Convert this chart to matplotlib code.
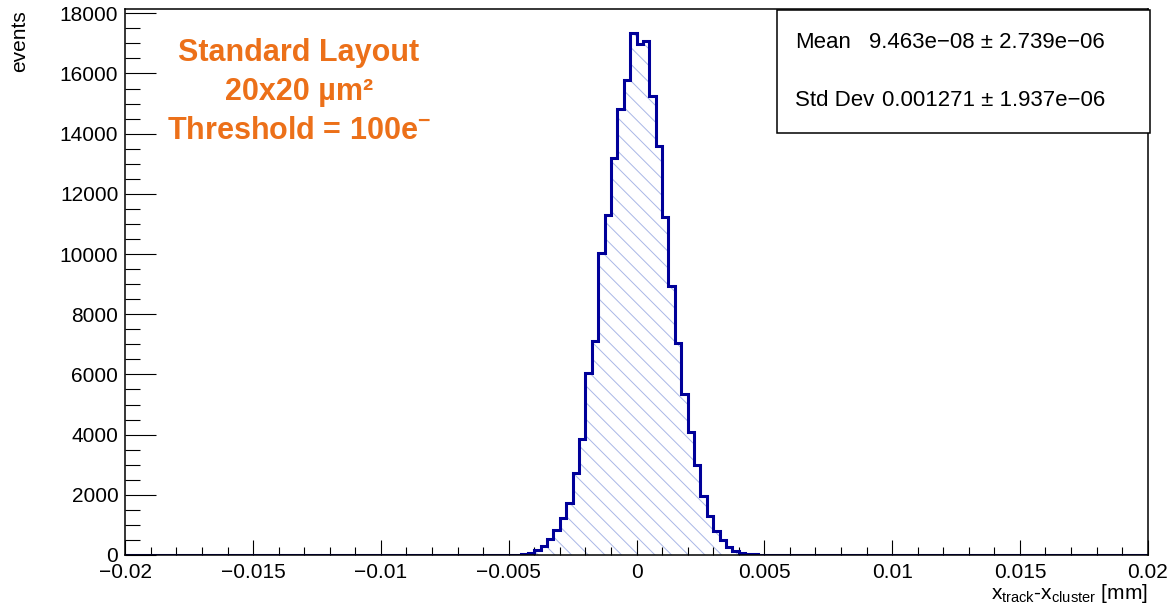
import numpy as np
import matplotlib
matplotlib.use("Agg")
import matplotlib.pyplot as plt
from matplotlib.ticker import MultipleLocator, FuncFormatter
from matplotlib.patches import Rectangle

plt.rcParams['font.family'] = ['Liberation Sans', 'DejaVu Sans']
plt.rcParams['mathtext.fontset'] = 'custom'
plt.rcParams['mathtext.rm'] = 'Liberation Sans'
plt.rcParams['mathtext.it'] = 'Liberation Sans'
plt.rcParams['mathtext.bf'] = 'Liberation Sans:bold'
plt.rcParams['hatch.linewidth'] = 0.7

# histogram: 160 bins from -0.02 to 0.02 mm, only the central 40 bins are filled
x_min, x_max, n_bins = -0.02, 0.02, 160
core_start = -0.005
core_counts = [5, 15, 35, 65, 156, 300, 522, 822, 1222, 1744,
               2722, 3856, 6044, 7111, 10022, 11300, 13189, 14822, 15800, 17333,
               16967, 17078, 15267, 13578, 11244, 8944, 7044, 5356, 4078, 3000,
               1967, 1300, 800, 489, 267, 133, 78, 40, 20, 8]

stats_labels = ["Mean", "Std Dev"]
stats_values = ["9.463e\u221208 \u00b1 2.739e\u221206", "0.001271 \u00b1 1.937e\u221206"]
note_lines = ["Standard Layout", "20x20 \u00b5m\u00b2", r"Threshold = 100e$^{\mathbf{-}}$"]

edges = np.linspace(x_min, x_max, n_bins + 1)
counts = np.zeros(n_bins)
first = int(round((core_start - x_min) / (x_max - x_min) * n_bins))
counts[first:first + len(core_counts)] = core_counts

W, H = 1168, 606
fig = plt.figure(figsize=(W / 100, H / 100), dpi=100)
ax = fig.add_axes([125.3 / W, 1 - 555 / H, (1147.7 - 125.3) / W, (555 - 9.3) / H])

line_col = '#000099'
hatch_col = '#a9b6e6'
ax.stairs(counts, edges, fill=True, facecolor='none', edgecolor=hatch_col,
          hatch='\\\\', linewidth=0, zorder=1)
ax.stairs(counts, edges, color=line_col, linewidth=2.2, zorder=2)

ax.set_xlim(x_min, x_max)
ax.set_ylim(0, 18133)
ax.xaxis.set_major_locator(MultipleLocator(0.005))
ax.xaxis.set_minor_locator(MultipleLocator(0.001))
ax.yaxis.set_major_locator(MultipleLocator(2000))
ax.yaxis.set_minor_locator(MultipleLocator(500))
ax.xaxis.set_major_formatter(FuncFormatter(lambda v, p: f"{round(v, 4):g}".replace('-', '\u2212')))
ax.yaxis.set_major_formatter(FuncFormatter(lambda v, p: f"{int(round(v))}"))

ax.tick_params(axis='both', which='both', direction='in', width=0.8, top=False, right=False,
               labelsize=15)
ax.tick_params(axis='x', which='major', length=11, pad=6)
ax.tick_params(axis='x', which='minor', length=5.5)
ax.tick_params(axis='y', which='major', length=22, pad=5)
ax.tick_params(axis='y', which='minor', length=11)
for s in ax.spines.values():
    s.set_linewidth(1.1)

fig.text(20 / W, 1 - 10 / H, "events", rotation=90, ha='center', va='top', fontsize=15)
fig.text(1148 / W, 1 / H, r"x$_{\rm track}$-x$_{\rm cluster}$ [mm]", ha='right', va='bottom',
         fontsize=15)

for i, line in enumerate(note_lines):
    fig.text(299 / W, 1 - (53 + 39 * i) / H, line, ha='center', va='center',
             fontsize=22, fontweight='bold', color='#ec7019')

# stats box
fig.patches.append(Rectangle((777 / W, 1 - 133 / H), (1150 - 777) / W, (133 - 10) / H,
                             transform=fig.transFigure, facecolor='white',
                             edgecolor='black', linewidth=1.1, zorder=5))
for i, (lab, val) in enumerate(zip(stats_labels, stats_values)):
    y = 1 - (42 + 59 * i) / H
    fig.text(795 / W, y, lab, ha='left', va='center', fontsize=16, zorder=6)
    fig.text(1105 / W, y, val, ha='right', va='center', fontsize=16, zorder=6)

fig.savefig("out.png", dpi=100)
